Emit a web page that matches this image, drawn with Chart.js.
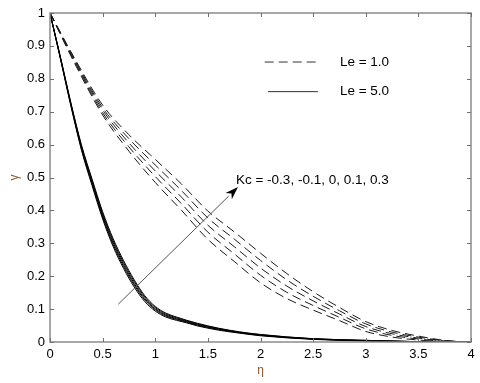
<!DOCTYPE html>
<html>
<head>
<meta charset="utf-8">
<script src="https://cdn.jsdelivr.net/npm/chart.js@4/dist/chart.umd.min.js"></script>
<style>
  html, body { margin: 0; padding: 0; background: #fff; }
  canvas { display: block; }
</style>
</head>
<body>
<canvas id="chart" width="480" height="383"></canvas>
<script>
// eta grid for the Le = 1.0 curves (dashed)
const etaLe1 = [0, 0.25, 0.5, 0.75, 1.0, 1.25, 1.5, 1.75, 2.0, 2.25, 2.5, 2.75, 3.0, 3.25, 3.5, 3.75, 4.0];
const gammaLe1_a = [1, 0.837, 0.690, 0.580, 0.485, 0.400, 0.312, 0.245, 0.180, 0.132, 0.097, 0.065, 0.032, 0.015, 0.006, 0.001, 0];
const gammaLe1_b = [1, 0.841, 0.697, 0.593, 0.503, 0.420, 0.334, 0.268, 0.203, 0.151, 0.111, 0.075, 0.040, 0.020, 0.009, 0.002, 0];
const gammaLe1_c = [1, 0.845, 0.705, 0.605, 0.520, 0.440, 0.355, 0.290, 0.225, 0.170, 0.125, 0.085, 0.047, 0.025, 0.012, 0.003, 0];
const gammaLe1_d = [1, 0.849, 0.712, 0.618, 0.538, 0.460, 0.377, 0.313, 0.248, 0.189, 0.139, 0.095, 0.055, 0.030, 0.015, 0.004, 0];
const gammaLe1_e = [1, 0.853, 0.720, 0.630, 0.555, 0.480, 0.398, 0.335, 0.270, 0.208, 0.153, 0.105, 0.062, 0.035, 0.018, 0.005, 0];

// eta grid for the Le = 5.0 curves (solid)
const etaLe5 = [0, 0.1, 0.2, 0.3, 0.4, 0.5, 0.6, 0.7, 0.8, 0.9, 1.0, 1.1, 1.2, 1.3, 1.4, 1.6, 1.8, 2.0, 2.5, 3.0, 3.5, 4.0];
const gammaLe5_a = [1, 0.859, 0.715, 0.582, 0.475, 0.374, 0.290, 0.223, 0.167, 0.123, 0.094, 0.076, 0.066, 0.058, 0.049, 0.036, 0.027, 0.019, 0.008, 0.003, 0.001, 0];
const gammaLe5_b = [1, 0.860, 0.718, 0.586, 0.480, 0.380, 0.296, 0.229, 0.173, 0.128, 0.098, 0.079, 0.069, 0.060, 0.051, 0.038, 0.028, 0.020, 0.009, 0.004, 0.001, 0];
const gammaLe5_c = [1, 0.862, 0.720, 0.590, 0.485, 0.385, 0.302, 0.235, 0.178, 0.132, 0.101, 0.082, 0.071, 0.062, 0.053, 0.039, 0.029, 0.021, 0.009, 0.004, 0.001, 0];
const gammaLe5_d = [1, 0.864, 0.723, 0.594, 0.490, 0.391, 0.308, 0.241, 0.184, 0.137, 0.105, 0.085, 0.074, 0.064, 0.055, 0.041, 0.030, 0.022, 0.010, 0.005, 0.001, 0];
const gammaLe5_e = [1, 0.865, 0.725, 0.598, 0.495, 0.396, 0.314, 0.247, 0.189, 0.141, 0.108, 0.088, 0.076, 0.066, 0.057, 0.042, 0.031, 0.023, 0.010, 0.005, 0.001, 0];

// ticks
const xTicks = [0, 0.5, 1, 1.5, 2, 2.5, 3, 3.5, 4];
const xTickLabels = ["0", "0.5", "1", "1.5", "2", "2.5", "3", "3.5", "4"];
const yTicks = [0, 0.1, 0.2, 0.3, 0.4, 0.5, 0.6, 0.7, 0.8, 0.9, 1];
const yTickLabels = ["0", "0.1", "0.2", "0.3", "0.4", "0.5", "0.6", "0.7", "0.8", "0.9", "1"];

// annotation text and positions (data units)
const legendLabels = ["Le = 1.0", "Le = 5.0"];
const kcLabel = "Kc = -0.3, -0.1, 0, 0.1, 0.3";
const arrowFrom = [0.649, 0.115];
const arrowTo = [1.786, 0.471];

const FONT = "'Liberation Sans', Arial, sans-serif";
const DASH = [9, 5];

const toPoints = (xs, ys) => xs.map((x, i) => ({ x: x, y: ys[i] }));

const dashedSet = (ys) => ({
  data: toPoints(etaLe1, ys),
  borderColor: "#1a1a1a",
  borderWidth: 1,
  borderDash: DASH,
  pointRadius: 0,
  cubicInterpolationMode: "monotone",
  fill: false,
});

const solidSet = (ys) => ({
  data: toPoints(etaLe5, ys),
  borderColor: "#000",
  borderWidth: 1,
  pointRadius: 0,
  cubicInterpolationMode: "monotone",
  fill: false,
});

// box, inward ticks, legend, arrow and labels
const decorPlugin = {
  id: "decor",
  afterDraw(chart) {
    const { ctx, chartArea: a, scales } = chart;
    const sx = scales.x, sy = scales.y;
    ctx.save();

    // frame
    ctx.strokeStyle = "#8c8c8c";
    ctx.lineWidth = 1.5;
    ctx.strokeRect(a.left, a.top, a.right - a.left, a.bottom - a.top);

    // inner ticks
    ctx.lineWidth = 1;
    ctx.strokeStyle = "#707070";
    ctx.beginPath();
    xTicks.forEach((v) => {
      const px = Math.round(sx.getPixelForValue(v)) + 0.5;
      ctx.moveTo(px, a.bottom); ctx.lineTo(px, a.bottom - 4);
      ctx.moveTo(px, a.top); ctx.lineTo(px, a.top + 4);
    });
    yTicks.forEach((v) => {
      const py = Math.round(sy.getPixelForValue(v)) + 0.5;
      ctx.moveTo(a.left, py); ctx.lineTo(a.left + 4, py);
      ctx.moveTo(a.right, py); ctx.lineTo(a.right - 4, py);
    });
    ctx.stroke();

    // legend samples
    ctx.strokeStyle = "#333";
    ctx.lineWidth = 1;
    ctx.setLineDash(DASH);
    ctx.beginPath();
    ctx.moveTo(sx.getPixelForValue(2.04), sy.getPixelForValue(0.851));
    ctx.lineTo(sx.getPixelForValue(2.565), sy.getPixelForValue(0.851));
    ctx.stroke();
    ctx.setLineDash([]);
    ctx.beginPath();
    ctx.moveTo(sx.getPixelForValue(2.07), sy.getPixelForValue(0.761));
    ctx.lineTo(sx.getPixelForValue(2.545), sy.getPixelForValue(0.761));
    ctx.stroke();

    ctx.fillStyle = "#000";
    ctx.font = "13.5px " + FONT;
    ctx.textAlign = "left";
    ctx.textBaseline = "middle";
    ctx.fillText(legendLabels[0], sx.getPixelForValue(2.755), sy.getPixelForValue(0.851));
    ctx.fillText(legendLabels[1], sx.getPixelForValue(2.755), sy.getPixelForValue(0.761));

    // arrow
    const x0 = sx.getPixelForValue(arrowFrom[0]), y0 = sy.getPixelForValue(arrowFrom[1]);
    const x1 = sx.getPixelForValue(arrowTo[0]), y1 = sy.getPixelForValue(arrowTo[1]);
    const ang = Math.atan2(y1 - y0, x1 - x0);
    const hl = 13, hw = 4.5;
    ctx.strokeStyle = "#555";
    ctx.beginPath();
    ctx.moveTo(x0, y0);
    ctx.lineTo(x1 - hl * Math.cos(ang), y1 - hl * Math.sin(ang));
    ctx.stroke();
    ctx.fillStyle = "#000";
    ctx.beginPath();
    ctx.moveTo(x1, y1);
    ctx.lineTo(x1 - hl * Math.cos(ang) + hw * Math.sin(ang), y1 - hl * Math.sin(ang) - hw * Math.cos(ang));
    ctx.lineTo(x1 - hl * 0.7 * Math.cos(ang), y1 - hl * 0.7 * Math.sin(ang));
    ctx.lineTo(x1 - hl * Math.cos(ang) - hw * Math.sin(ang), y1 - hl * Math.sin(ang) + hw * Math.cos(ang));
    ctx.closePath();
    ctx.fill();

    ctx.fillText(kcLabel, sx.getPixelForValue(1.767), sy.getPixelForValue(0.492));

    // axis titles
    ctx.fillStyle = "#8b5a2b";
    ctx.font = "12px " + FONT;
    ctx.textAlign = "center";
    ctx.fillText("\u03b7", (a.left + a.right) / 2, 371);
    ctx.translate(15, (a.top + a.bottom) / 2);
    ctx.rotate(-Math.PI / 2);
    ctx.fillText("\u03b3", 0, 0);

    ctx.restore();
  },
};

new Chart(document.getElementById("chart").getContext("2d"), {
  type: "line",
  data: {
    datasets: [
      dashedSet(gammaLe1_a),
      dashedSet(gammaLe1_b),
      dashedSet(gammaLe1_c),
      dashedSet(gammaLe1_d),
      dashedSet(gammaLe1_e),
      solidSet(gammaLe5_a),
      solidSet(gammaLe5_b),
      solidSet(gammaLe5_c),
      solidSet(gammaLe5_d),
      solidSet(gammaLe5_e),
    ],
  },
  options: {
    responsive: false,
    animation: false,
    devicePixelRatio: 1,
    layout: { padding: { top: 13, right: 9, left: 0, bottom: 0 } },
    plugins: { legend: { display: false }, tooltip: { enabled: false } },
    scales: {
      x: {
        type: "linear",
        min: 0,
        max: 4,
        afterBuildTicks: (s) => { s.ticks = xTicks.map((v) => ({ value: v })); },
        afterFit: (s) => { s.height = 41; },
        grid: { display: false, drawTicks: false },
        border: { display: false },
        ticks: {
          padding: 5,
          color: "#000",
          font: { family: FONT, size: 13 },
          maxRotation: 0,
          autoSkip: false,
          callback: (v) => xTickLabels[xTicks.indexOf(v)],
        },
      },
      y: {
        type: "linear",
        min: 0,
        max: 1,
        afterBuildTicks: (s) => { s.ticks = yTicks.map((v) => ({ value: v })); },
        afterFit: (s) => { s.width = 50; },
        grid: { display: false, drawTicks: false },
        border: { display: false },
        ticks: {
          padding: 5,
          color: "#000",
          font: { family: FONT, size: 13 },
          autoSkip: false,
          callback: (v) => yTickLabels[yTicks.indexOf(v)],
        },
      },
    },
  },
  plugins: [decorPlugin],
});
</script>
</body>
</html>
